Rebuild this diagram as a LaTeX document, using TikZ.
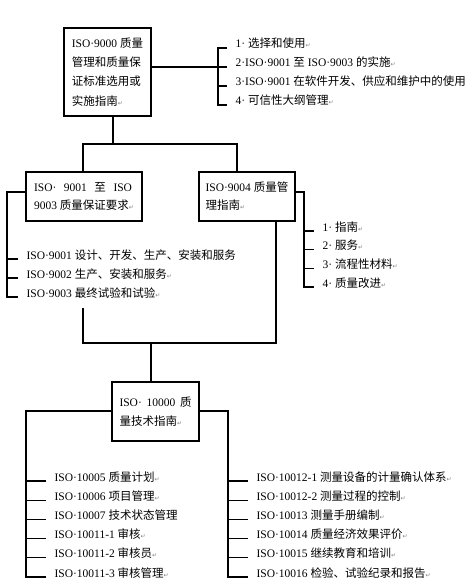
\documentclass[tikz,border=0pt]{standalone}
\usepackage{fontspec}
\setmainfont{Liberation Serif}
\newfontfamily\latfont{Liberation Serif}
\newfontfamily\cjkfont{Noto Sans CJK SC}
\newfontfamily\symfont{DejaVu Sans}
\usetikzlibrary{positioning}

% 汉字自动换用 CJK 字体
\XeTeXinterchartokenstate=1
\newXeTeXintercharclass\cjkcls
\makeatletter
\count@="3000
\loop \XeTeXcharclass\count@=\cjkcls \advance\count@ by 1 \ifnum\count@<"3040 \repeat
\count@="4E00
\loop \XeTeXcharclass\count@=\cjkcls \advance\count@ by 1 \ifnum\count@<"A000 \repeat
\makeatother
\XeTeXinterchartoks 0 \cjkcls = {\cjkfont}
\XeTeXinterchartoks 4095 \cjkcls = {\cjkfont}
\XeTeXinterchartoks \cjkcls 0 = {\latfont}
\XeTeXinterchartoks \cjkcls 4095 = {\latfont}

% Word 段落标记
\newcommand{\retmark}{{\symfont\fontsize{6}{6}\selectfont\textcolor{gray}{↵}}}

\begin{document}
\begin{tikzpicture}[x=1pt, y=-1pt, line width=1.2pt,
  box/.style={draw, line width=1.3pt, align=left, inner xsep=0pt, inner ysep=0pt},
  item/.style={anchor=base west, inner xsep=8pt, inner ysep=0pt, font=\fontsize{11.5}{14}\selectfont}]

  % ── 四个方框 ──
  \node[box, minimum width=87pt, minimum height=88pt, font=\fontsize{11.5}{19.3}\selectfont]
        (iso9000) at (107.5,72) {ISO·9000 质量\\管理和质量保\\证标准选用或\\实施指南\retmark};
  \node[box, minimum width=116pt, minimum height=49pt, font=\fontsize{11.5}{18}\selectfont]
        (iso9001) at (84,196.5) {\hbox to 98pt{ISO·\hfil 9001\hfil 至\hfil ISO}\\9003 质量保证要求\retmark};
  \node[box, minimum width=96pt, minimum height=49pt, font=\fontsize{11.5}{18}\selectfont]
        (iso9004) at (247,196.5) {ISO·9004 质量管\\理指南\retmark};
  \node[box, minimum width=87pt, minimum height=59pt, font=\fontsize{11.5}{19}\selectfont]
        (iso10000) at (155.5,411.5) {\hbox to 72pt{ISO·\hfil 10000\hfil 质}\\量技术指南\retmark};

  % ── 各组条目（anchor=base west：短横线钉在基线上）──
  \foreach \t [count=\i] in {{1· 选择和使用\retmark}, {2·ISO·9001 至 ISO·9003 的实施\retmark},
      {3·ISO·9001 在软件开发、供应和维护中的使用}, {4· 可信性大纲管理\retmark}}
     \node[item] (a\i) at (227,{29+19*\i}) {\t};
  \foreach \t [count=\i] in {{ISO·9001 设计、开发、生产、安装和服务}, {ISO·9002 生产、安装和服务\retmark},
      {ISO·9003 最终试验和试验\retmark}}
     \node[item] (b\i) at (18,{240+19*\i}) {\t};
  \foreach \t [count=\i] in {{1· 指南\retmark}, {2· 服务\retmark}, {3· 流程性材料\retmark}, {4· 质量改进\retmark}}
     \node[item] (c\i) at (314,{212.33+18.67*\i}) {\t};
  \foreach \t [count=\i] in {{ISO·10005 质量计划\retmark}, {ISO·10006 项目管理\retmark}, {ISO·10007 技术状态管理},
      {ISO·10011-1 审核\retmark}, {ISO·10011-2 审核员\retmark}, {ISO·10011-3 审核管理\retmark}}
     \node[item] (d\i) at (46,{461.8+19.2*\i}) {\t};
  \foreach \t [count=\i] in {{ISO·10012-1 测量设备的计量确认体系\retmark}, {ISO·10012-2 测量过程的控制\retmark},
      {ISO·10013 测量手册编制\retmark}, {ISO·10014 质量经济效果评价\retmark},
      {ISO·10015 继续教育和培训\retmark}, {ISO·10016 检验、试验纪录和报告\retmark}}
     \node[item] (e\i) at (248,{461.8+19.2*\i}) {\t};

  % ── 折线的拐点 ──
  \coordinate (ba) at (218,0);
  \coordinate (j0) at (113,144);
  \coordinate (jl) at (83,144);
  \coordinate (jr) at (237,144);
  \coordinate (bb) at (7,192);
  \coordinate (bc) at (304,192);
  \coordinate (jt) at (83,308);
  \coordinate (jm) at (151,343);
  \coordinate (jn) at (276,343);
  \coordinate (bd) at (26,411);
  \coordinate (be) at (228,411);

  % ── 顶部方框右侧的括号 ──
  \draw (iso9000.east |- a2.base west) -- (a2.base west);
  \draw (a1.base west) -- (a1.base west -| ba) -- (a4.base west -| ba) -- (a4.base west);
  \draw (a3.base west -| ba) -- (a3.base west);

  % ── 树干：顶部 → 两个方框 ──
  \draw (iso9000.south -| j0) -- (j0);
  \draw (iso9001.north -| jl) -- (jl) -- (jr) -- (iso9004.north -| jr);

  % ── 9001 左侧、9004 右侧的括号 ──
  \draw (iso9001.west |- bb) -- (bb) -- (b3.base west -| bb) -- (b3.base west);
  \foreach \i in {1,2} \draw (b\i.base west -| bb) -- (b\i.base west);
  \draw (iso9004.east |- bc) -- (bc) -- (c4.base west -| bc) -- (c4.base west);
  \foreach \i in {1,2,3} \draw (c\i.base west -| bc) -- (c\i.base west);

  % ── 两个方框 → 10000（左边一段从条目下方起）──
  \draw (jt) -- (jl |- jm) -- (jn) -- (iso9004.south -| jn);
  \draw (jm) -- (iso10000.north -| jm);

  % ── 10000 两侧的括号 ──
  \draw (iso10000.west |- bd) -- (bd) -- (d6.base west -| bd) -- (d6.base west);
  \foreach \i in {1,...,5} \draw (d\i.base west -| bd) -- (d\i.base west);
  \draw (iso10000.east |- be) -- (be) -- (e6.base west -| be) -- (e6.base west);
  \foreach \i in {1,...,5} \draw (e\i.base west -| be) -- (e\i.base west);

  \path[use as bounding box] (0,0) rectangle (472,588);
\end{tikzpicture}
\end{document}
